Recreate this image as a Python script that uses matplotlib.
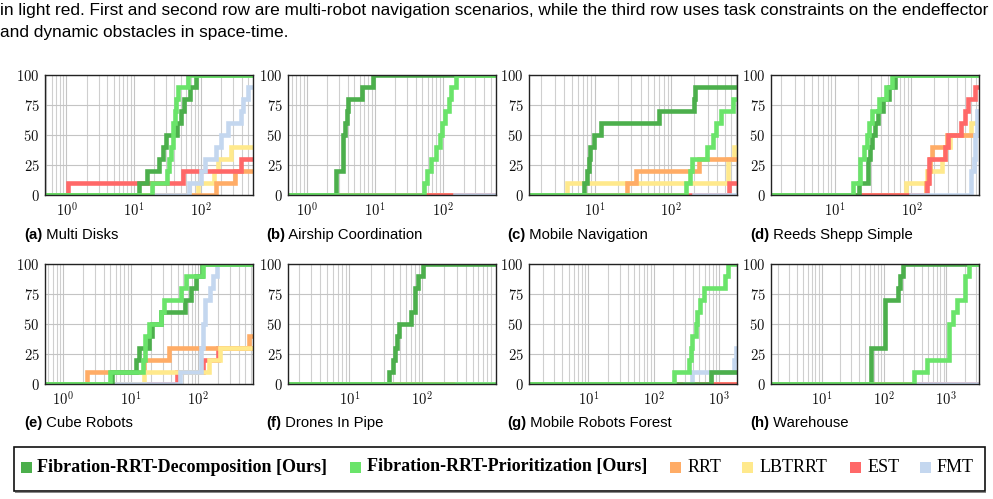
import matplotlib
matplotlib.use("Agg")
import matplotlib.pyplot as plt
import numpy as np
from matplotlib.ticker import FixedLocator, FuncFormatter, LogLocator, NullFormatter
from matplotlib.patches import Rectangle

plt.rcParams['mathtext.fontset'] = 'cm'

W, H = 993, 499

# ---------------- data (time [s] at which success rate reaches value [%]) ----------------
series_names = ["Fibration-RRT-Decomposition [Ours]", "Fibration-RRT-Prioritization [Ours]",
                "RRT", "LBTRRT", "EST", "FMT"]
series_keys = ["dec", "prio", "rrt", "lbt", "est", "fmt"]
series_colors = {"dec": "#4caf4c", "prio": "#6ae46a", "rrt": "#ffac66",
                 "lbt": "#ffe98c", "est": "#ff6868", "fmt": "#c4d7ef"}

panel_titles = ["Multi Disks", "Airship Coordination", "Mobile Navigation", "Reeds Shepp Simple",
                "Cube Robots", "Drones In Pipe", "Mobile Robots Forest", "Warehouse"]
panel_letters = ["a", "b", "c", "d", "e", "f", "g", "h"]
panel_xlims = [(0.48, 590), (0.53, 600), (1.39, 726), (1.46, 764),
               (0.54, 650), (1.43, 1050), (1.23, 1880), (1.55, 3330)]
panel_xticks = [[1, 10, 100], [1, 10, 100], [10, 100], [10, 100],
                [1, 10, 100], [10, 100], [10, 100, 1000], [10, 100, 1000]]

multi_disks = {
    "dec": ([11.9, 15.8, 23.7, 27.2, 29.9, 43.7, 50.1, 56.2, 68.4, 84.1],
            [10, 20, 30, 40, 50, 60, 70, 80, 90, 100]),
    "prio": ([18.8, 31.6, 33.5, 35.5, 37.6, 38.9, 40.7, 42.2, 44.7, 64.6],
             [10, 20, 30, 40, 50, 60, 70, 80, 90, 100]),
    "rrt": ([168, 316], [10, 20]),
    "lbt": ([89, 158, 178, 282], [10, 20, 30, 40]),
    "est": ([1.06, 53.1, 389], [10, 20, 30]),
    "fmt": ([66.8, 100, 115, 164, 200, 251, 389, 422, 501],
            [10, 20, 30, 40, 50, 60, 70, 80, 90]),
}
airship = {
    "dec": ([2.68, 3.44, 3.68, 3.85, 3.98, 6.53, 9.25], [20, 50, 60, 70, 80, 90, 100]),
    "prio": ([52.7, 59.0, 66.1, 78.2, 89.3, 96.6, 105.7, 122.4, 132.4, 153],
             [10, 20, 30, 40, 50, 60, 70, 80, 90, 100]),
    "rrt": ([], []), "lbt": ([], []), "est": ([], []), "fmt": ([], []),
}
mobile_nav = {
    "dec": ([7.26, 8.02, 8.35, 8.78, 9.70, 12.2, 69.0, 198, 208],
            [10, 20, 30, 40, 50, 60, 70, 80, 90]),
    "prio": ([157, 179, 186, 292, 356, 386, 449, 637], [10, 20, 30, 40, 50, 60, 70, 80]),
    "rrt": ([26.7, 34.3, 230], [10, 20, 30]),
    "lbt": ([4.36, 548, 656], [10, 30, 40]),
    "est": ([577], [10]),
    "fmt": ([], []),
}
reeds_shepp = {
    "dec": ([20.8, 26.7, 28.6, 30.7, 33.2, 36.8, 42.7, 50.6, 60.6],
            [10, 30, 40, 50, 60, 70, 80, 90, 100]),
    "prio": ([17.3, 21.2, 24.1, 25.9, 28.1, 30.1, 37.8, 47.2, 56.0],
             [10, 30, 40, 50, 60, 70, 80, 90, 100]),
    "rrt": ([157, 165, 173, 186, 295], [10, 20, 30, 40, 50]),
    "lbt": ([84.3, 162, 251, 278, 316, 594], [10, 20, 30, 40, 50, 60]),
    "est": ([162, 170, 272, 301, 449, 496, 548, 684], [10, 30, 40, 50, 60, 70, 80, 90]),
    "fmt": ([607, 657, 684, 726], [20, 30, 50, 70]),
}
cube_robots = {
    "dec": ([5.31, 11.9, 13.3, 18.8, 21.1, 28.2, 63.1, 79.4, 94.4, 115],
            [10, 20, 30, 40, 50, 60, 70, 80, 90, 100]),
    "prio": ([5.01, 15.5, 16.2, 18.8, 28.5, 30.9, 55.0, 66.8, 119],
             [10, 20, 40, 50, 60, 70, 80, 90, 100]),
    "rrt": ([2.29, 15.8, 37.6, 562], [10, 20, 30, 40]),
    "lbt": ([15.8, 145, 211], [10, 20, 30]),
    "est": ([49, 119, 195], [10, 20, 30]),
    "fmt": ([53.1, 110, 119, 126, 150, 168, 188], [10, 30, 50, 70, 80, 90, 100]),
}
drones_pipe = {
    "dec": ([34.8, 39.5, 42.9, 45.3, 48.8, 70.6, 80.9, 88.1, 105],
            [10, 20, 30, 40, 50, 60, 80, 90, 100]),
    "prio": ([], []), "rrt": ([], []), "lbt": ([], []), "est": ([], []), "fmt": ([], []),
}
robots_forest = {
    "dec": ([746], [10]),
    "prio": ([206, 348, 369, 391, 440, 467, 507, 590, 1235, 1388],
             [10, 20, 30, 40, 50, 60, 70, 80, 90, 100]),
    "rrt": ([], []), "lbt": ([], []), "est": ([], []),
    "fmt": ([391, 1694, 1795], [10, 20, 30]),
}
warehouse = {
    "dec": ([63.1, 103, 169, 179, 203], [30, 70, 80, 90, 100]),
    "prio": ([304, 497, 1089, 1279, 1500, 2014, 2306], [10, 20, 50, 60, 70, 90, 100]),
    "rrt": ([], []), "lbt": ([], []), "est": ([], []), "fmt": ([], []),
}
panels_data = [multi_disks, airship, mobile_nav, reeds_shepp,
               cube_robots, drones_pipe, robots_forest, warehouse]
# time from which FMT has an entry (its curve starts there)
fmt_start = [20, 150, 200, 100, 6, 300, 300, 300]

# ---------------- layout ----------------
fig = plt.figure(figsize=(W / 100, H / 100), dpi=100)

def fx(x):
    return x / W

def fy(y):
    return 1 - y / H

col_left = [45, 288, 529, 771]
ax_w = 208
row_top = [75, 264]
ax_h = 120
cap_x = [24, 266, 507, 750]
cap_y = [235, 423]

default_order = ["lbt", "rrt", "est", "fmt", "dec", "prio"]
order_override = {4: ["est", "rrt", "lbt", "fmt", "dec", "prio"]}

for i, data in enumerate(panels_data):
    r, c = divmod(i, 4)
    ax = fig.add_axes([fx(col_left[c]), fy(row_top[r] + ax_h), ax_w / W, ax_h / H])
    xmin, xmax = panel_xlims[i]
    ax.set_xscale("log")
    ax.set_xlim(xmin, xmax)
    ax.set_ylim(0, 100)
    ax.set_axisbelow(True)
    for key in order_override.get(i, default_order):
        ts, vs = data[key]
        start = fmt_start[i] if key == "fmt" else xmin
        xs = [start] + list(ts) + [xmax]
        ys = [0] + list(vs) + [vs[-1] if len(vs) else 0]
        ax.plot(xs, ys, drawstyle="steps-post", color=series_colors[key], lw=3.3,
                solid_joinstyle="miter", zorder=3)
    ax.xaxis.set_major_locator(FixedLocator(panel_xticks[i]))
    ax.xaxis.set_major_formatter(FuncFormatter(lambda v, p: r"$10^{%d}$" % int(round(np.log10(v)))))
    ax.xaxis.set_minor_locator(LogLocator(base=10, subs=np.arange(2, 10), numticks=20))
    ax.xaxis.set_minor_formatter(NullFormatter())
    ax.yaxis.set_major_locator(FixedLocator([0, 25, 50, 75, 100]))
    ax.yaxis.set_major_formatter(FuncFormatter(lambda v, p: r"$%d$" % v))
    ax.grid(True, which="major", color="#c4c4c4", lw=0.8)
    ax.grid(True, which="minor", axis="x", color="#cfcfcf", lw=0.8)
    ax.tick_params(which="both", length=0, labelsize=10.5, colors="#111111")
    ax.tick_params(axis="y", pad=4)
    ax.tick_params(axis="x", pad=4)
    for s in ax.spines.values():
        s.set_color("#222222")
        s.set_linewidth(1.0)
        s.set_zorder(4)
    # caption
    t1 = fig.text(fx(cap_x[c]), fy(cap_y[r]), "(%s)" % panel_letters[i], fontsize=10.7,
                  fontweight="bold", family="Liberation Sans", va="center", ha="left")
    ax.annotate(" " + panel_titles[i], xy=(1, 0.5), xycoords=t1, va="center", ha="left",
                fontsize=10.7, family="Liberation Sans", annotation_clip=False)

# top text
fig.text(0.0, fy(10), "in light red. First and second row are multi-robot navigation scenarios, "
         "while the third row uses task constraints on the endeffector",
         fontsize=12.4, family="Liberation Sans", va="center", ha="left")
fig.text(0.0, fy(32), "and dynamic obstacles in space-time.",
         fontsize=12.4, family="Liberation Sans", va="center", ha="left")

# legend box
fig.patches.append(Rectangle((fx(14), fy(491)), (985 - 14) / W, (491 - 447) / H,
                             transform=fig.transFigure, fill=False, edgecolor="#111111",
                             lw=1.2, zorder=1))
fig.patches.append(Rectangle((fx(15), fy(493)), (985 - 14) / W, 1.5 / H,
                             transform=fig.transFigure, facecolor="#888888", edgecolor="none",
                             zorder=0))
sq_x = [21, 350, 670, 742, 850, 920]
txt_x = [37, 367, 688, 760, 868, 937]
leg_y = 467
for k, key in enumerate(series_keys):
    fig.patches.append(Rectangle((fx(sq_x[k]), fy(leg_y + 5.5)), 11 / W, 11 / H,
                                 transform=fig.transFigure, facecolor=series_colors[key],
                                 edgecolor="none"))
    fig.text(fx(txt_x[k]), fy(leg_y), series_names[k], fontsize=13.0,
             family="Liberation Serif", fontweight="bold" if k < 2 else "normal",
             va="center", ha="left")

fig.savefig("out.png", dpi=100)
